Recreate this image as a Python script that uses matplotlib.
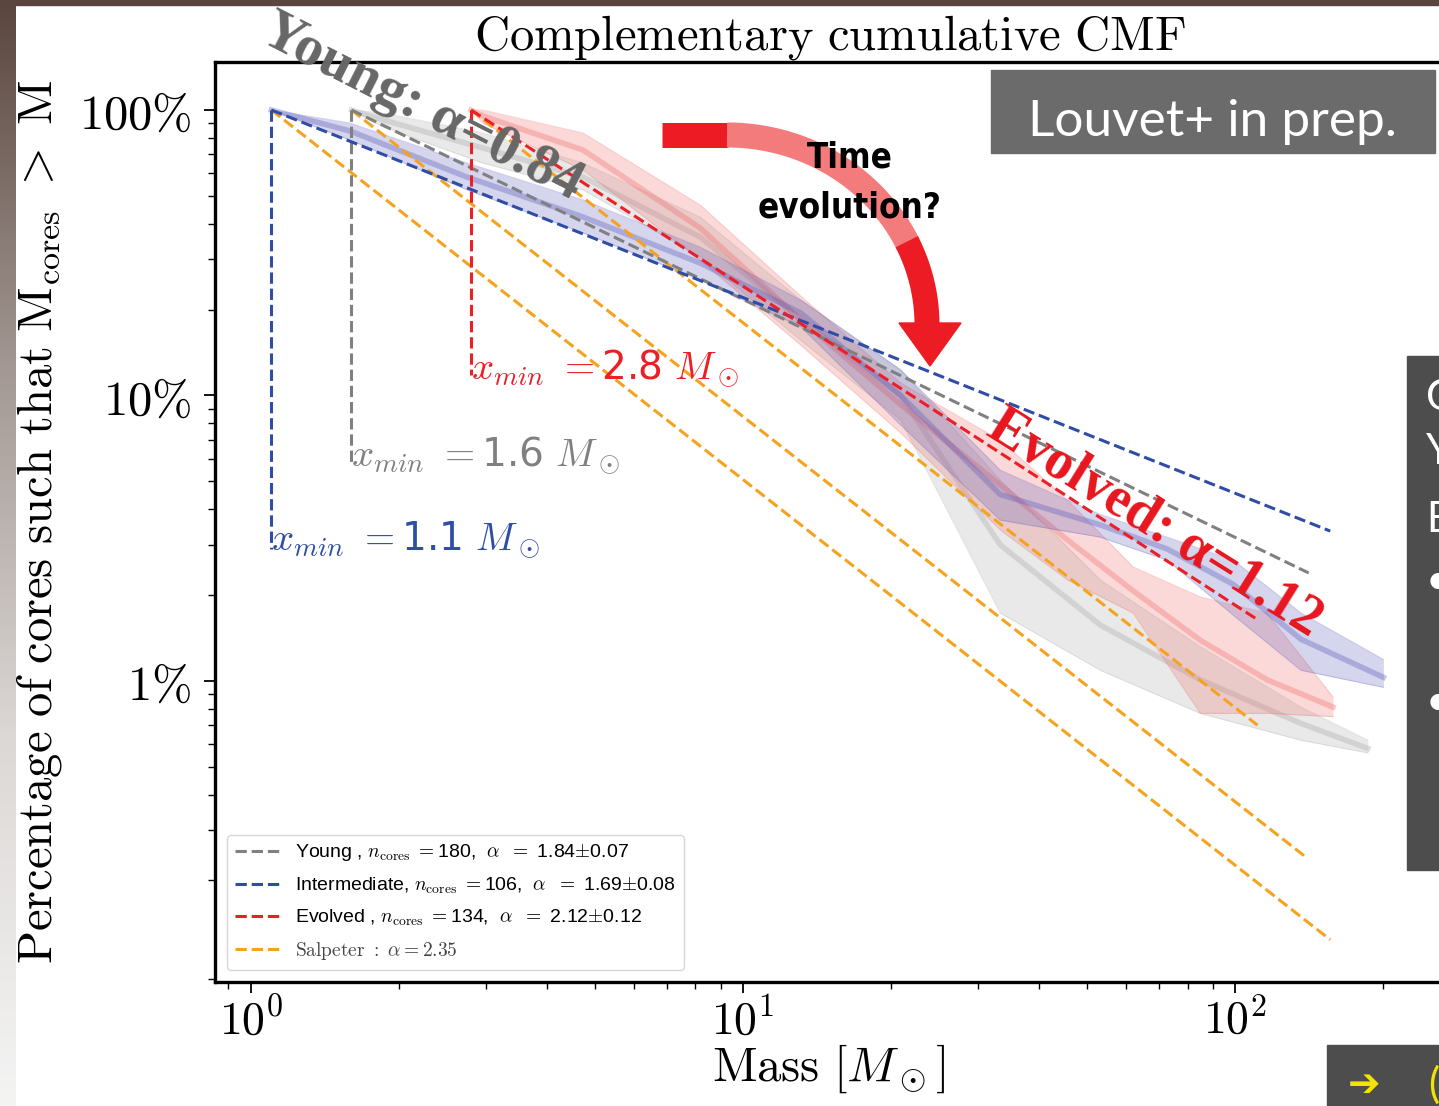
import numpy as np
import matplotlib.pyplot as plt
from matplotlib.patches import Rectangle, Polygon
from matplotlib.colors import LinearSegmentedColormap
from matplotlib.ticker import FixedLocator, FuncFormatter, LogLocator, NullFormatter

plt.rcParams['mathtext.fontset'] = 'cm'
plt.rcParams['font.family'] = ['DejaVu Sans']

# bootstrap envelopes of the complementary CDF
# mass in Msun, percentage of cores with M_cores > M
young_m = [1.6, 1.86, 2.96, 4.73, 8.18, 13.1, 20.9, 33.3, 53.2, 84.9, 136, 186]
young_hi = [100, 97.6, 83.1, 65.2, 42.2, 21.6, 12.3, 5.06, 2.26, 1.32, 0.81, 0.62]
young_mid = [100, 92.2, 73.6, 58.2, 35.9, 18.4, 10.0, 3.0, 1.57, 1.01, 0.71, 0.58]
young_lo = [100, 87.2, 65.2, 52.5, 30.6, 15.6, 8.2, 1.73, 1.09, 0.77, 0.62, 0.56]

inter_m = [1.1, 1.59, 2.75, 4.73, 8.18, 13.1, 20.9, 33.3, 53.2, 72.7, 99.1, 136, 200]
inter_hi = [100, 90.0, 65.2, 48.4, 33.1, 21.6, 12.3, 5.48, 3.83, 3.19, 2.65, 1.73, 1.19]
inter_mid = [100, 84.4, 58.2, 42.2, 29.1, 19.45, 10.0, 4.5, 3.52, 2.9, 2.18, 1.4, 1.03]
inter_lo = [100, 78.5, 52.5, 37.1, 25.4, 17.4, 7.88, 3.66, 3.19, 2.65, 1.70, 1.09, 0.95]

evol_m = [2.8, 2.96, 4.73, 8.18, 13.1, 20.9, 33.3, 45.6, 62.0, 84.9, 116, 158]
evol_hi = [100, 100, 83.1, 46.5, 22.3, 11.06, 6.98, 4.31, 2.51, 1.97, 1.73, 0.88]
evol_mid = [100, 95.3, 72.4, 38.6, 18.4, 9.3, 4.86, 3.12, 2.07, 1.39, 1.01, 0.81]
evol_lo = [100, 90.0, 61.6, 29.8, 15.0, 7.39, 3.38, 2.26, 1.73, 0.77, 0.77, 0.75]

# power-law fits: start at x_min (100%), end point
xmin = [1.6, 1.1, 2.8]
xmin_bottom = [5.7, 2.9, 11.8]
fit_xend = [141, 156, 111]
fit_yend = [2.39, 3.35, 1.64]
salp_xend = [139, 156, 111]
salp_yend = [0.242, 0.124, 0.70]
ncores = [180, 106, 134]
alpha = ['1.84', '1.69', '2.12']
alpha_err = ['0.07', '0.08', '0.12']
label_y = [6.18, 3.12, 12.5]
names = ['Young ', 'Intermediate', 'Evolved ']

colors = ['#808080', '#2f4ca6', '#ec1f27']
band_colors = ['#a8a8a8', '#5a5ab8', '#f06a6a']
orange = '#f5a31f'

W, H = 1439, 1106
fig = plt.figure(figsize=(W / 100, H / 100), dpi=100)
ax = fig.add_axes([215 / W, 1 - 982 / H, (1470 - 215) / W, 920 / H])
ax.set_xscale('log')
ax.set_yscale('log')

bands = [(young_m, young_hi, young_mid, young_lo), (evol_m, evol_hi, evol_mid, evol_lo),
         (inter_m, inter_hi, inter_mid, inter_lo)]
bcols = [band_colors[0], band_colors[2], band_colors[1]]
for (m, hi, mid, lo), bc in zip(bands, bcols):
    ax.fill_between(m, lo, hi, color=bc, alpha=0.25, lw=0, zorder=1)
    ax.plot(m, hi, color=bc, alpha=0.25, lw=0.8, zorder=1)
    ax.plot(m, lo, color=bc, alpha=0.25, lw=0.8, zorder=1)
    ax.plot(m, mid, color=bc, alpha=0.35, lw=4, zorder=1, solid_joinstyle='round')

handles = []
for i in range(3):
    ax.plot([xmin[i], xmin[i]], [100, xmin_bottom[i]], ls='--', color=colors[i], lw=2.2, zorder=3)
    lab = (names[i] + r', $n_{\rm cores}$ $=$' + str(ncores[i]) + r',  $\alpha$  $=$ ' + alpha[i]
           + r'$\pm$' + alpha_err[i])
    h, = ax.plot([xmin[i], fit_xend[i]], [100, fit_yend[i]], ls='--', color=colors[i], lw=2.2, zorder=3, label=lab)
    handles.append(h)
for i in range(3):
    h, = ax.plot([xmin[i], salp_xend[i]], [100, salp_yend[i]], ls='--', color=orange, lw=2.2, zorder=2,
                 label=r'$\mathrm{Salpeter}\ :\ \alpha = 2.35$')
    if i == 0:
        handles.append(h)

for i in range(3):
    ax.text(xmin[i], label_y[i], r'$x_{min}$ $=$' + str(xmin[i]) + r' $M_\odot$', color=colors[i],
            fontsize=28, ha='left', va='center', zorder=4)

leg = ax.legend(handles=handles, loc='lower left', bbox_to_anchor=(0.0096, 0.013), borderaxespad=0,
                prop={'family': 'Liberation Sans', 'size': 14}, handlelength=2.3, labelspacing=0.62,
                framealpha=0.8)
leg.get_texts()[3].set_color('#444444')

ax.set_xlim(0.845, 300)
ax.set_ylim(0.0882, 147.3)

ax.yaxis.set_major_locator(FixedLocator([1, 10, 100]))
ax.yaxis.set_major_formatter(FuncFormatter(lambda v, p: r'$%d\%%$' % v if v >= 1 else ''))
ax.yaxis.set_minor_locator(LogLocator(subs=np.arange(2, 10), numticks=20))
ax.yaxis.set_minor_formatter(NullFormatter())
ax.xaxis.set_major_locator(FixedLocator([1, 10, 100]))
ax.xaxis.set_major_formatter(FuncFormatter(lambda v, p: r'$10^{%d}$' % round(np.log10(v))))
ax.xaxis.set_minor_locator(LogLocator(subs=np.arange(2, 10), numticks=20))
ax.xaxis.set_minor_formatter(NullFormatter())
ax.tick_params(which='major', direction='out', length=8, width=1.3, labelsize=35, pad=4)
ax.tick_params(axis='y', which='major', pad=9)
ax.tick_params(axis='x', which='major', labelsize=33)
ax.tick_params(which='minor', direction='out', length=5, width=1.0)
for s in ax.spines.values():
    s.set_linewidth(2.4)

ax.set_title(r'$\mathrm{Complementary\ cumulative\ CMF}$', fontsize=35, pad=4, x=0.49)
ax.set_xlabel(r'$\mathrm{Mass}\ [M_\odot]$', fontsize=35)
ax.xaxis.set_label_coords(0.489, -0.066)
ax.set_ylabel(r'$\mathrm{Percentage\ of\ cores\ such\ that\ M_{cores}\ >\ M}$', fontsize=35)
ax.yaxis.set_label_coords(-0.12, 0.5)

# slide overlay, in pixel coordinates
ov = fig.add_axes([0, 0, 1, 1], zorder=5)
grad = np.linspace(0, 1, 256).reshape(-1, 1)
cm = LinearSegmentedColormap.from_list('edge', ['#5a463f', '#a39893', '#dcd8d6', '#f4f4f4'])
ov.imshow(grad, extent=[0, 16, H, 0], aspect='auto', cmap=cm)
ov.add_patch(Rectangle((0, 0), W, 5, color='#5a463f'))

ov.add_patch(Rectangle((991, 70), 444, 83, color='#6b6b6b'))
ov.text(1212, 122, 'Louvet+ in prep.', color='white', fontsize=37, family='Lato',
        ha='center', va='center')

ov.add_patch(Rectangle((1407, 356), 40, 514, color='#4d4d4d'))
for ch, yy in [('C', 398), ('Y', 452), ('E', 520), ('•', 582), ('•', 703)]:
    ov.text(1426, yy, ch, color='white', fontsize=30, family='Lato', ha='left', va='center')

ov.add_patch(Rectangle((1327, 1045), 120, 61, color='#4d4d4d'))
ov.text(1348, 1085, '➔', color='#f2e400', fontsize=28, ha='left', va='center', weight='bold')
ov.text(1428, 1085, '(', color='#f2e400', fontsize=30, ha='left', va='center', family='Lato')

# curved "time evolution" arrow
red = '#ed1c24'
light = '#f47b7b'
cx, cy, rx, ry = 727, 325, 200, 190
ov.plot([662, 728], [135, 135], color=red, lw=18, solid_capstyle='butt')
t1 = np.radians(np.linspace(90, 25, 60))
ov.plot(cx + rx * np.cos(t1), cy - ry * np.sin(t1), color=light, lw=18, solid_capstyle='butt')
t2 = np.radians(np.linspace(26, 0, 30))
ov.plot(cx + rx * np.cos(t2), cy - ry * np.sin(t2), color=red, lw=18, solid_capstyle='butt')
ov.add_patch(Polygon([[899, 323], [961, 323], [930, 366]], closed=True, color=red))
ov.text(850, 158, 'Time', fontsize=25, weight='bold', family=['Liberation Sans Narrow', 'DejaVu Sans'],
        fontstretch='condensed', ha='center', va='center')
ov.text(850, 208, 'evolution?', fontsize=25, weight='bold', family=['Liberation Sans Narrow', 'DejaVu Sans'],
        fontstretch='condensed', ha='center', va='center')

ov.text(422, 108, 'Young: α=0.84', rotation=-27, rotation_mode='anchor', ha='center', va='center',
        fontsize=41, weight='bold', family='Liberation Serif', color='#676767')
ov.text(1155, 524, 'Evolved: α=1.12', rotation=-32, rotation_mode='anchor', ha='center', va='center',
        fontsize=40, weight='bold', family='Liberation Serif', color='#e8161e')

ov.set_xlim(0, W)
ov.set_ylim(H, 0)
ov.axis('off')

fig.savefig('out.png', dpi=100)
